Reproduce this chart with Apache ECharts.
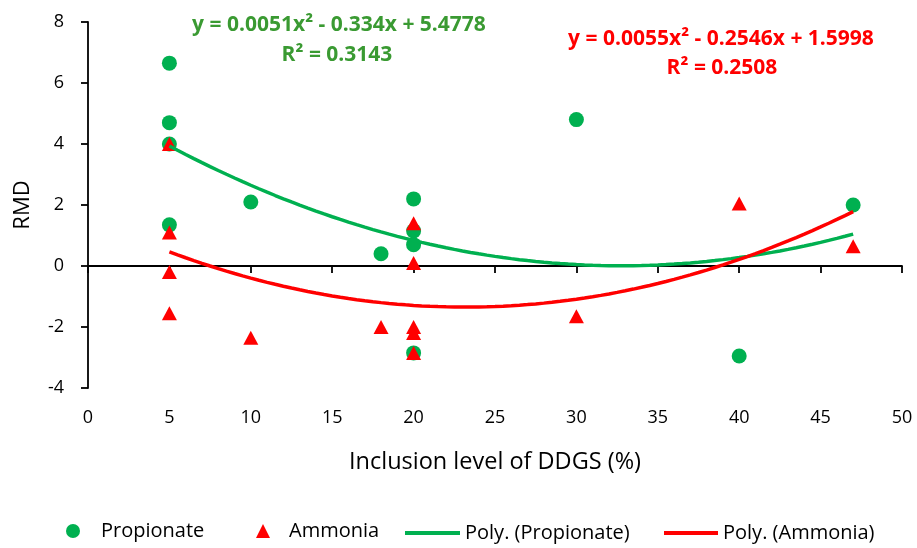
<!DOCTYPE html>
<html>
<head>
<meta charset="utf-8">
<script src="https://cdn.jsdelivr.net/npm/echarts@6/dist/echarts.min.js"></script>
<style>
  html, body { margin: 0; padding: 0; background: #fff; }
  #chart { width: 917px; height: 548px; }
</style>
</head>
<body>
<div id="chart"></div>
<script>
// Inclusion level of DDGS (%) and RMD values for each measurement
const propionateX = [5, 5, 5, 5, 10, 18, 20, 20, 20, 20, 30, 40, 47];
const propionateY = [6.65, 4.7, 4.0, 1.35, 2.1, 0.4, 2.2, 1.15, 0.7, -2.85, 4.8, -2.95, 2.0];
const ammoniaX = [5, 5, 5, 5, 10, 18, 20, 20, 20, 20, 20, 30, 40, 47];
const ammoniaY = [4.0, 1.1, -0.2, -1.55, -2.35, -2.0, 1.4, 0.1, -2.0, -2.2, -2.85, -1.65, 2.05, 0.65];

// Quadratic trend coefficients [a, b, c] for y = a*x^2 + b*x + c, as reported
const propionateFit = [0.0051, -0.334, 5.4778];
const ammoniaFit = [0.0055, -0.2546, 1.5998];
const propionateR2 = '0.3143';
const ammoniaR2 = '0.2508';

// Axis ticks
const xTicks = [0, 5, 10, 15, 20, 25, 30, 35, 40, 45, 50];
const yTicks = [-4, -2, 0, 2, 4, 6, 8];

const FONT = '"Open Sans", Lato, sans-serif';
const GREEN = '#00B050';
const RED = '#FF0000';
const EQ_GREEN = '#3A9A32';

function trend(coef, x0, x1, step) {
  const pts = [];
  for (let x = x0; x <= x1 + 1e-9; x += step) {
    pts.push([x, coef[0] * x * x + coef[1] * x + coef[2]]);
  }
  return pts;
}
function pairs(xs, ys) { return xs.map((x, i) => [x, ys[i]]); }
function eqText(coef) {
  const f = (v) => Math.abs(v).toString();
  return 'y = ' + f(coef[0]) + 'x\u00B2 ' + (coef[1] < 0 ? '- ' : '+ ') + f(coef[1]) +
    'x ' + (coef[2] < 0 ? '- ' : '+ ') + f(coef[2]);
}
function label(text, x, y, color) {
  return { type: 'text', x: x, y: y, z: 10,
    style: { text: text, fill: color, font: 'bold 21px ' + FONT, align: 'center', verticalAlign: 'middle' } };
}

const xMin = xTicks[0], xMax = xTicks[xTicks.length - 1];
const yMin = yTicks[0], yMax = yTicks[yTicks.length - 1];

const chart = echarts.init(document.getElementById('chart'), null, { renderer: 'canvas' });

const axisLabelStyle = { color: '#000', fontSize: 18, fontFamily: FONT };
const legendText = { color: '#000', fontSize: 20, fontFamily: FONT };

chart.setOption({
  animation: false,
  backgroundColor: '#fff',
  grid: { left: 88, right: 15, top: 22, bottom: 160, containLabel: false },
  xAxis: [
    { // line and ticks crossing at y = 0
      type: 'value', min: xMin, max: xMax, interval: 5,
      axisLine: { onZero: true, lineStyle: { color: '#000', width: 1.8 } },
      axisTick: { show: true, length: 7, inside: false, lineStyle: { color: '#000', width: 1.8 } },
      axisLabel: { show: false },
      splitLine: { show: false }
    },
    { // labels and title along the bottom
      type: 'value', min: xMin, max: xMax, interval: 5, position: 'bottom',
      axisLine: { show: false, onZero: false },
      axisTick: { show: false },
      axisLabel: Object.assign({ margin: 21 }, axisLabelStyle),
      splitLine: { show: false },
      name: 'Inclusion level of DDGS (%)',
      nameLocation: 'middle', nameGap: 62,
      nameTextStyle: { color: '#000', fontSize: 23.5, fontFamily: FONT }
    }
  ],
  yAxis: {
    type: 'value', min: yMin, max: yMax, interval: 2,
    axisLine: { show: true, onZero: false, lineStyle: { color: '#000', width: 1.8 } },
    axisTick: { show: true, length: 7, lineStyle: { color: '#000', width: 1.8 } },
    axisLabel: Object.assign({ margin: 24 }, axisLabelStyle),
    splitLine: { show: false },
    name: 'RMD', nameLocation: 'middle', nameGap: 54, nameRotate: 90,
    nameTextStyle: { color: '#000', fontSize: 22, fontFamily: FONT }
  },
  legend: [
    { data: [{ name: 'Propionate', icon: 'circle' }], left: 61, top: 516, itemWidth: 14, itemHeight: 14,
      textStyle: Object.assign({ padding: [0, 0, 0, 16] }, legendText) },
    { data: [{ name: 'Ammonia', icon: 'triangle' }], left: 251, top: 516, itemWidth: 14, itemHeight: 14,
      textStyle: Object.assign({ padding: [0, 0, 0, 14] }, legendText) },
    { data: [{ name: 'Poly. (Propionate)', icon: 'rect' }], left: 400, top: 518, itemWidth: 55, itemHeight: 4,
      textStyle: Object.assign({ padding: [0, 0, 0, 0] }, legendText) },
    { data: [{ name: 'Poly. (Ammonia)', icon: 'rect' }], left: 659, top: 518, itemWidth: 54, itemHeight: 4,
      textStyle: Object.assign({ padding: [0, 0, 0, 0] }, legendText) }
  ],
  graphic: [
    label(eqText(propionateFit), 339, 25, EQ_GREEN),
    label('R\u00B2 = ' + propionateR2, 337, 55, EQ_GREEN),
    label(eqText(ammoniaFit), 721, 39, RED),
    label('R\u00B2 = ' + ammoniaR2, 722, 68, RED)
  ],
  series: [
    { name: 'Propionate', type: 'scatter', xAxisIndex: 0, data: pairs(propionateX, propionateY),
      symbol: 'circle', symbolSize: 15, itemStyle: { color: GREEN, opacity: 1 }, z: 2 },
    { name: 'Ammonia', type: 'scatter', xAxisIndex: 0, data: pairs(ammoniaX, ammoniaY),
      symbol: 'triangle', symbolSize: [15, 14], itemStyle: { color: RED, opacity: 1 }, z: 3 },
    { name: 'Poly. (Propionate)', type: 'line', xAxisIndex: 0, data: trend(propionateFit, 5, 47, 0.5),
      showSymbol: false, smooth: false, lineStyle: { color: GREEN, width: 3.5 }, itemStyle: { color: GREEN }, z: 4 },
    { name: 'Poly. (Ammonia)', type: 'line', xAxisIndex: 0, data: trend(ammoniaFit, 5, 47, 0.5),
      showSymbol: false, smooth: false, lineStyle: { color: RED, width: 3.5 }, itemStyle: { color: RED }, z: 5 }
  ]
});
</script>
</body>
</html>
